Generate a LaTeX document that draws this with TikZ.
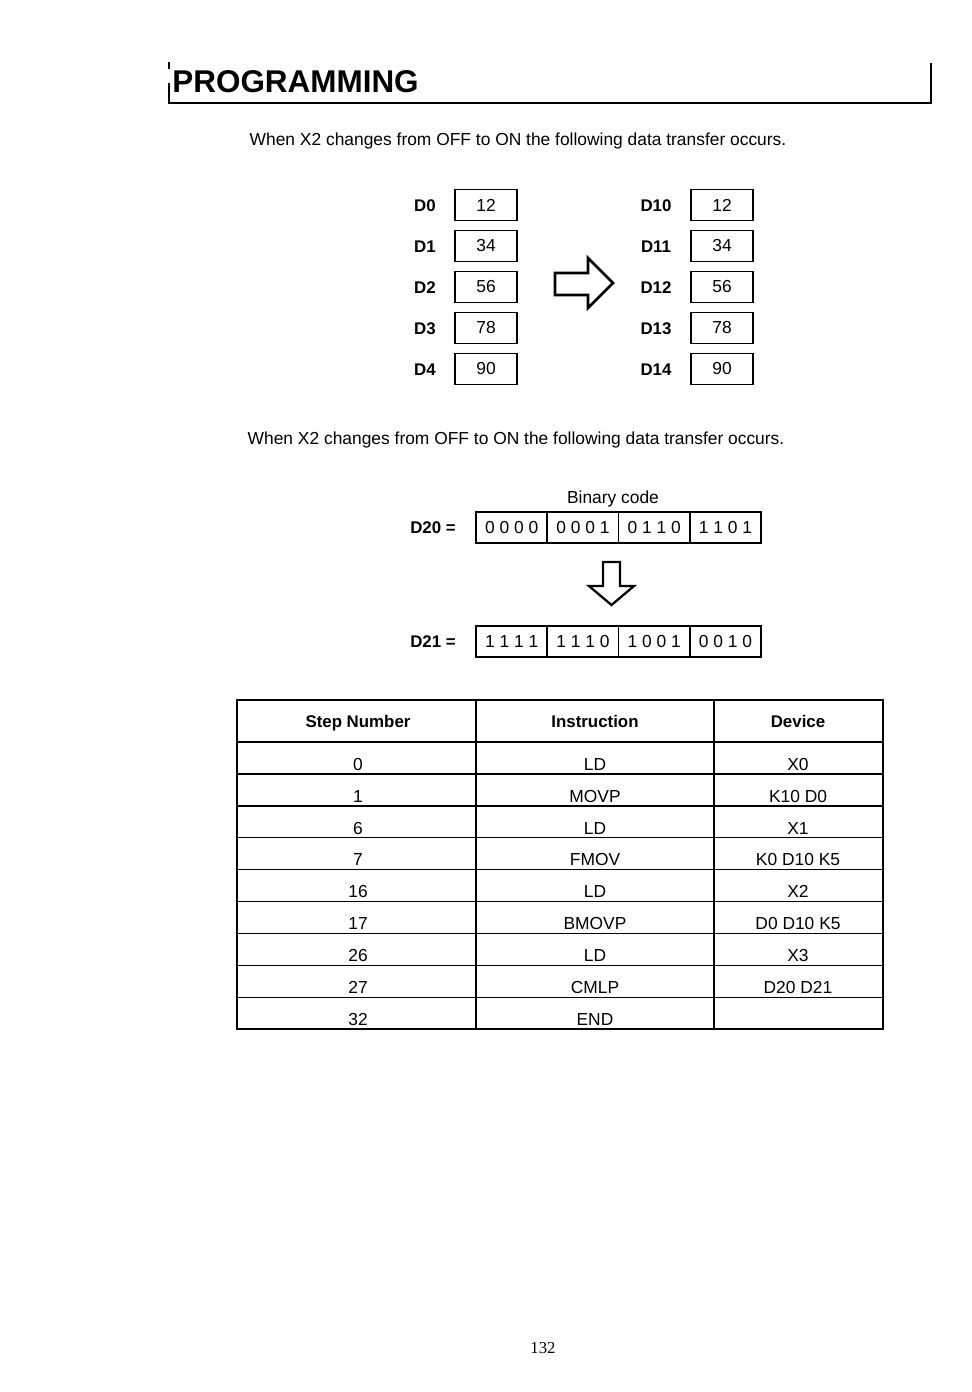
\documentclass[tikz,border=0pt]{standalone}
\usepackage{fontspec}
\setmainfont{Liberation Sans}
\newfontfamily\pnfont{Liberation Serif}
\begin{document}
\begin{tikzpicture}[x=0.02cm,y=-0.02cm,
  txt/.style={font=\fontsize{9.9}{12}\selectfont, inner sep=0pt, text height=7.1pt, text depth=0pt},
  btxt/.style={font=\fontsize{9.6}{12}\selectfont\bfseries, inner sep=0pt, text height=6.9pt, text depth=0pt},
  reg/.style={draw, line width=1.1pt, minimum width=1.24cm, minimum height=0.62cm, inner sep=0pt, font=\fontsize{9.9}{12}\selectfont},
  bincell/.style={draw, line width=1.1pt, minimum width=1.425cm, minimum height=0.62cm, inner sep=0pt, font=\fontsize{9.9}{12}\selectfont},
  blockarrow/.style={draw, line width=1.5pt, line join=miter},
  grid/.style={line width=0.8pt},
  rule/.style={line width=1.2pt}]
\useasboundingbox (0,0) rectangle (972,1392);

% header
\node[anchor=base west, inner sep=0pt, font=\fontsize{17.9}{20}\selectfont\bfseries] (title) at (172,93) {PROGRAMMING};
\coordinate (hl) at (169,103);
\coordinate (hr) at (931,103);
\coordinate (hrt) at (931,63);
\coordinate (hlt) at (169,83);
\coordinate (hltt) at (169,62);
\coordinate (hltb) at (169,69);
\draw[rule] (hlt) -- (hl) -- (hr) -- (hrt);
\draw[rule] (hltt) -- (hltb);

% sentence 1
\node[txt] (s1) at (518,139) {When X2 changes from OFF to ON the following data transfer occurs.};

% registers
\foreach \i/\v [count=\k from 0] in {0/12,1/34,2/56,3/78,4/90}{
  \pgfmathsetmacro{\yy}{205+41*\k}
  \node[btxt] (dl\i) at (425,\yy) {D\i};
  \node[reg] (bl\i) at (486,\yy) {\v};
  \node[btxt] (dr\i) at (656,\yy) {D1\i};
  \node[reg] (br\i) at (722,\yy) {\v};
}

% right block arrow
\draw[blockarrow] (555,273) -- (588,273) -- (588,258) -- (613,283) -- (588,308) -- (588,295) -- (555,295) -- cycle;

% sentence 2
\node[txt] (s2) at (516,438) {When X2 changes from OFF to ON the following data transfer occurs.};

% binary code
\node[txt] (bc) at (613,497) {Binary code};
\node[btxt] (d20) at (433,527) {D20 =};
\node[bincell] (a1) at (511.6,527.5) {0 0 0 0};
\node[bincell] (a2) at (582.9,527.5) {0 0 0 1};
\node[bincell] (a3) at (654.1,527.5) {0 1 1 0};
\node[bincell] (a4) at (725.4,527.5) {1 1 0 1};

\draw[blockarrow, line width=1.3pt] (603,562) -- (620,562) -- (620,586) -- (634,586) -- (611.5,605) -- (589,586) -- (603,586) -- cycle;

\node[btxt] (d21) at (433,641) {D21 =};
\node[bincell] (b1) at (511.6,641.5) {1 1 1 1};
\node[bincell] (b2) at (582.9,641.5) {1 1 1 0};
\node[bincell] (b3) at (654.1,641.5) {1 0 0 1};
\node[bincell] (b4) at (725.4,641.5) {0 0 1 0};

% table
\draw[grid] (237,700) rectangle (883,1029);
\draw[grid] (476,700) -- (476,1029);
\draw[grid] (714,700) -- (714,1029);
\foreach \k in {0,...,8}{
  \draw[grid] (237,742+31.9*\k) -- (883,742+31.9*\k);
}
\node[btxt] (h1) at (358,721) {Step Number};
\node[btxt] (h2) at (595,721) {Instruction};
\node[btxt] (h3) at (798,721) {Device};
\foreach \s/\ins/\dev [count=\k from 0] in {0/LD/X0,1/MOVP/K10 D0,6/LD/X1,7/FMOV/K0 D10 K5,16/LD/X2,17/BMOVP/D0 D10 K5,26/LD/X3,27/CMLP/D20 D21,32/END/{}}{
  \pgfmathsetmacro{\yy}{764+31.9*\k}
  \node[txt] (c1r\k) at (358,\yy) {\s};
  \node[txt] (c2r\k) at (595,\yy) {\ins};
  \node[txt] (c3r\k) at (798,\yy) {\dev};
}

% page number
\node[inner sep=0pt, font=\pnfont\fontsize{9.5}{12}\selectfont] (pn) at (543,1348) {132};
\end{tikzpicture}
\end{document}
